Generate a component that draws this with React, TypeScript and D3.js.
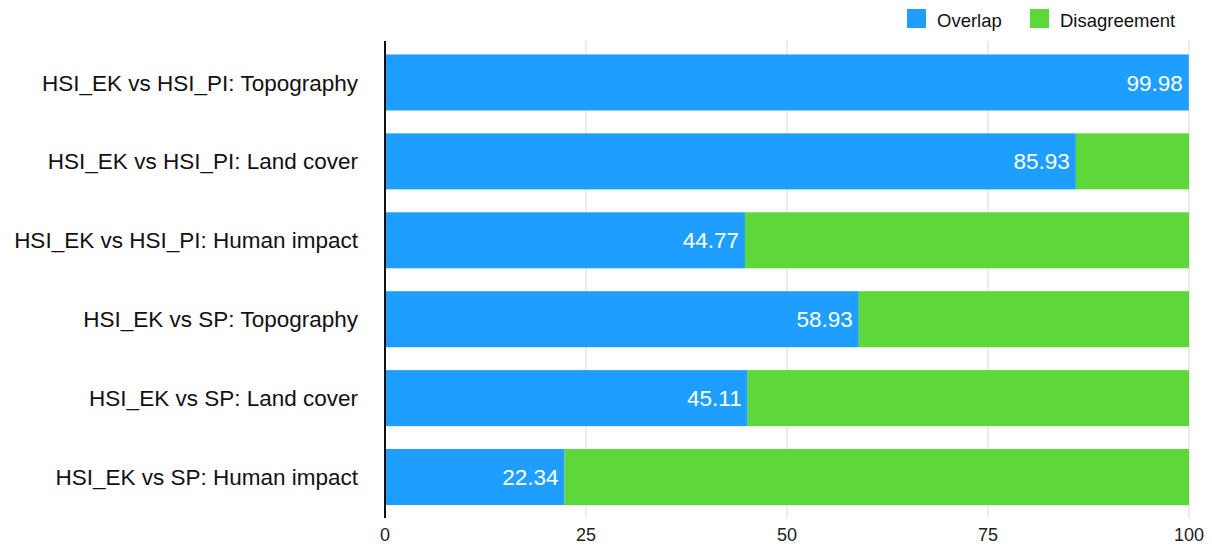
import React from "react";
import * as d3 from "d3";

const categories = [
  "HSI_EK vs HSI_PI: Topography",
  "HSI_EK vs HSI_PI: Land cover",
  "HSI_EK vs HSI_PI: Human impact",
  "HSI_EK vs SP: Topography",
  "HSI_EK vs SP: Land cover",
  "HSI_EK vs SP: Human impact",
];
const overlap = [99.98, 85.93, 44.77, 58.93, 45.11, 22.34];
const disagreement = [0.02, 14.07, 55.23, 41.07, 54.89, 77.66];
const ticks = [0, 25, 50, 75, 100];
const seriesNames = ["Overlap", "Disagreement"];
const colors = ["#1E9FFF", "#5DD73A"];

export default function App() {
  const W = 1212, H = 546;
  const x = d3.scaleLinear().domain([0, 100]).range([385, 1189]);
  const y = d3.scaleBand().domain(categories).range([43, 516.5]).paddingInner(0.29).paddingOuter(0.145);
  const font = "'Liberation Sans', Arial, Helvetica, sans-serif";
  return (
    <svg width={W} height={H} style={{ position: "absolute", left: 0, top: 0 }} fontFamily={font}>
      {ticks.map((t) => (
        <g key={t}>
          {t !== 0 && (
            <line x1={x(t)} x2={x(t)} y1={41} y2={518} stroke="#d9d9d9" strokeWidth={1} />
          )}
          <text x={x(t)} y={541} textAnchor="middle" fontSize={18} fill="#222">{t}</text>
        </g>
      ))}
      {categories.map((c, i) => {
        const y0 = y(c)!;
        const bh = y.bandwidth();
        return (
          <g key={c}>
            <rect x={x(0)} y={y0} width={x(overlap[i]) - x(0)} height={bh} fill={colors[0]} />
            <rect x={x(overlap[i])} y={y0} width={x(overlap[i] + disagreement[i]) - x(overlap[i])} height={bh} fill={colors[1]} />
            <text x={x(overlap[i]) - 6} y={y0 + bh / 2} dy="0.36em" textAnchor="end" fontSize={22.5} fill="#fff">
              {overlap[i].toFixed(2)}
            </text>
            <text x={358} y={y0 + bh / 2} dy="0.36em" textAnchor="end" fontSize={22.5} fill="#111">{c}</text>
          </g>
        );
      })}
      <line x1={x(0)} x2={x(0)} y1={41} y2={518} stroke="#111" strokeWidth={2} />
      {seriesNames.map((s, i) => {
        const lx = [907, 1030][i];
        return (
          <g key={s}>
            <rect x={lx} y={9} width={19} height={19} fill={colors[i]} />
            <text x={lx + 30} y={27} fontSize={18.5} fill="#111">{s}</text>
          </g>
        );
      })}
    </svg>
  );
}
